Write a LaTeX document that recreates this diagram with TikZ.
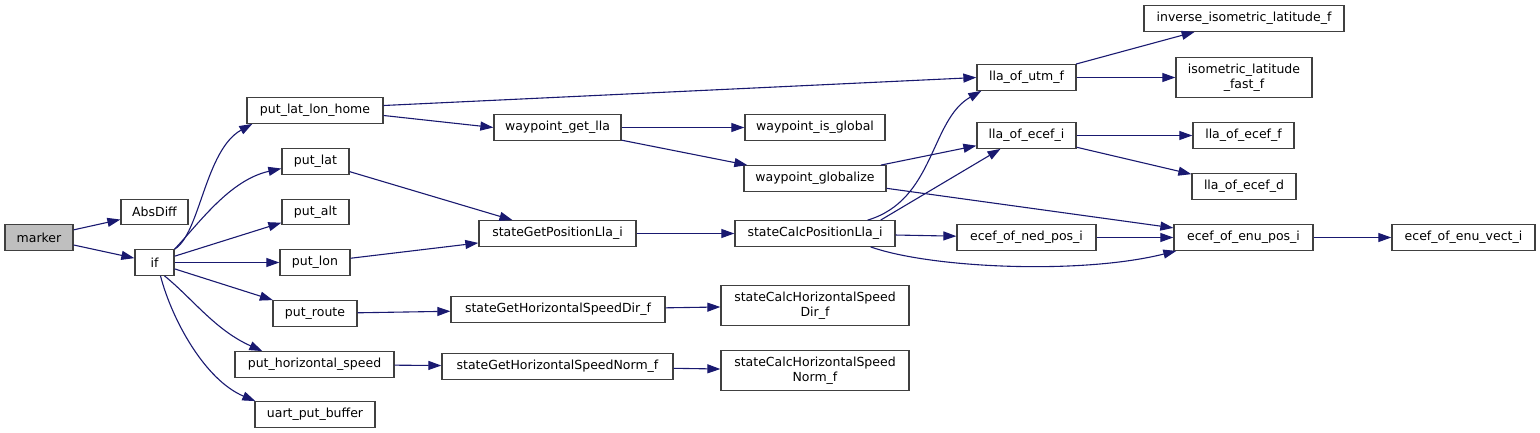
\documentclass[tikz,border=0pt]{standalone}
\usepackage{fontspec}
\setmainfont{DejaVu Sans}
\usetikzlibrary{arrows.meta}
\definecolor{Midnight}{HTML}{191970}
\definecolor{Frame}{HTML}{404040}
\definecolor{Root}{HTML}{BFBFBF}

\begin{document}
\begin{tikzpicture}[x=1pt, y=-1pt,
        fn/.style={draw=Frame, line width=1.3pt, fill=white, minimum height=25.5pt, inner sep=0pt,
          align=center, font=\fontsize{12.5}{15}\selectfont},
        tall/.style={fn, minimum height=40.5pt},
        call/.style={-{Triangle[length=13pt, width=9pt]}, line width=1.1pt, draw=Midnight}
      ]
        \useasboundingbox (0,0) rectangle (1540,433);
        \node[fn, fill=Root, minimum width=68pt] (marker) at (39,237.5) {marker};
        \node[fn, minimum width=67pt] (absdiff) at (154.5,212) {AbsDiff};
        \node[fn, minimum width=39pt] (if) at (154.5,262.5) {if};
        \node[fn, minimum width=136pt] (latlonhome) at (315,110.5) {put\_lat\_lon\_home};
        \node[fn, minimum width=67pt] (putlat) at (315.5,161.5) {put\_lat};
        \node[fn, minimum width=67pt] (putalt) at (315.5,212) {put\_alt};
        \node[fn, minimum width=70pt] (putlon) at (315,262.5) {put\_lon};
        \node[fn, minimum width=84pt] (putroute) at (315,313.5) {put\_route};
        \node[fn, minimum width=159pt] (puthspeed) at (314.5,364.5) {put\_horizontal\_speed};
        \node[fn, minimum width=120pt] (uartbuf) at (315,414.5) {uart\_put\_buffer};
        \node[fn, minimum width=127pt] (wpgetlla) at (557.5,127.5) {waypoint\_get\_lla};
        \node[fn, minimum width=157pt] (getposlla) at (557.5,233.5) {stateGetPositionLla\_i};
        \node[fn, minimum width=214pt] (gethdir) at (558,309.5) {stateGetHorizontalSpeedDir\_f};
        \node[fn, minimum width=231pt] (gethnorm) at (557.5,366.5) {stateGetHorizontalSpeedNorm\_f};
        \node[fn, minimum width=140pt] (wpisglobal) at (815,127.5) {waypoint\_is\_global};
        \node[fn, minimum width=142pt] (wpglobalize) at (815,178.5) {waypoint\_globalize};
        \node[fn, minimum width=160pt] (calcposlla) at (815,233.5) {stateCalcPositionLla\_i};
        \node[tall, minimum width=188pt] (calchdir) at (815,305.5) {stateCalcHorizontalSpeed\\Dir\_f};
        \node[tall, minimum width=188pt] (calchnorm) at (815,370.5) {stateCalcHorizontalSpeed\\Norm\_f};
        \node[fn, minimum width=99pt] (llautm) at (1026.5,77.5) {lla\_of\_utm\_f};
        \node[fn, minimum width=99pt] (llaecefi) at (1026.5,135.5) {lla\_of\_ecef\_i};
        \node[fn, minimum width=139pt] (nedpos) at (1026.5,237.5) {ecef\_of\_ned\_pos\_i};
        \node[fn, minimum width=200pt] (invisolat) at (1244,18.5) {inverse\_isometric\_latitude\_f};
        \node[tall, minimum width=136pt] (isolatfast) at (1244,77.5) {isometric\_latitude\\\_fast\_f};
        \node[fn, minimum width=101pt] (llaeceff) at (1243.5,135.5) {lla\_of\_ecef\_f};
        \node[fn, minimum width=104pt] (llaecefd) at (1244,186.5) {lla\_of\_ecef\_d};
        \node[fn, minimum width=139pt] (enupos) at (1243.5,237.5) {ecef\_of\_enu\_pos\_i};
        \node[fn, minimum width=143pt] (enuvect) at (1463.5,237.5) {ecef\_of\_enu\_vect\_i};
        \draw[call] (marker) -- (absdiff);
        \draw[call] (marker) -- (if);
        \draw[call] (if.north east) .. controls (200,234) and (205,150) .. ([xshift=6pt]latlonhome.south west);
        \draw[call] (if.north east) .. controls (200,222) and (230,180) .. ([yshift=-7pt]putlat.west);
        \draw[call] (if) -- (putalt);
        \draw[call] (if) -- (putlon);
        \draw[call] (if) -- (putroute);
        \draw[call] ([xshift=10pt]if.south) .. controls (192,298) and (215,330) .. ([xshift=28pt]puthspeed.north west);
        \draw[call] ([xshift=6pt]if.south) .. controls (172,320) and (205,380) .. ([xshift=1pt]uartbuf.north west);
        \draw[call] ([yshift=5pt]latlonhome.east) -- (llautm.west);
        \draw[call] ([yshift=-5pt]latlonhome.east) -- (wpgetlla.west);
        \draw[call] (putlat) -- (getposlla);
        \draw[call] (putlon) -- (getposlla);
        \draw[call] (putroute) -- (gethdir);
        \draw[call] (puthspeed) -- (gethnorm);
        \draw[call] (wpgetlla) -- (wpisglobal);
        \draw[call] (wpgetlla) -- (wpglobalize);
        \draw[call] (wpglobalize) -- (llaecefi);
        \draw[call] (wpglobalize) -- (enupos);
        \draw[call] (getposlla) -- (calcposlla);
        \draw[call] ([xshift=-28pt]calcposlla.north east) .. controls (935,200) and (930,120) .. ([xshift=5pt]llautm.south west);
        \draw[call] ([xshift=-15pt]calcposlla.north east) -- ([xshift=-26pt]llaecefi.south);
        \draw[call] (calcposlla) -- (nedpos);
        \draw[call] ([xshift=-25pt]calcposlla.south east) .. controls (930,268) and (1080,275) .. ([xshift=3pt]enupos.south west);
        \draw[call] (gethdir) -- (calchdir);
        \draw[call] (gethnorm) -- (calchnorm);
        \draw[call] (llautm) -- (invisolat);
        \draw[call] (llautm) -- (isolatfast);
        \draw[call] (llaecefi) -- (llaeceff);
        \draw[call] (llaecefi) -- (llaecefd);
        \draw[call] (nedpos) -- (enupos);
        \draw[call] (enupos) -- (enuvect);
      \end{tikzpicture}
\end{document}
